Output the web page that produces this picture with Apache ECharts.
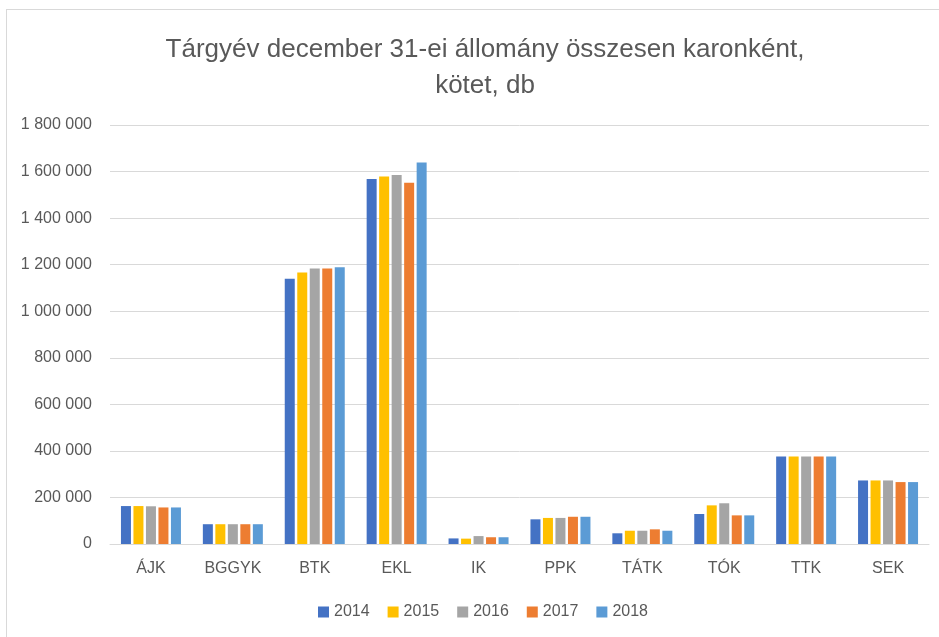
<!DOCTYPE html>
<html>
<head>
<meta charset="utf-8">
<script src="https://cdn.jsdelivr.net/npm/echarts@6/dist/echarts.min.js"></script>
<style>
    html, body { margin: 0; padding: 0; background: #fff; }
    #wrap { position: relative; width: 939px; height: 637px; }
    #chart { width: 939px; height: 637px; }
    .frame {
        position: absolute;
        left: 6px;
        top: 9px;
        right: 0;
        bottom: 0;
        border-left: 1px solid #D9D9D9;
        border-top: 1px solid #D9D9D9;
        pointer-events: none;
    }
</style>
</head>
<body>
<div id="wrap">
    <div id="chart"></div>
    <div class="frame"></div>
</div>
<script>
    // karok
    const categories = ['ÁJK', 'BGGYK', 'BTK', 'EKL', 'IK', 'PPK', 'TÁTK', 'TÓK', 'TTK', 'SEK']
    const years = ['2014', '2015', '2016', '2017', '2018']
    // állomány, kötet (leolvasott becslés)
    const v2014 = [163000, 85000, 1140000, 1568000, 24000, 106000, 46000, 129000, 376000, 273000]
    const v2015 = [163000, 85000, 1166000, 1579000, 23000, 112000, 57000, 166000, 376000, 273000]
    const v2016 = [162000, 85000, 1183000, 1585000, 34000, 112000, 57000, 175000, 376000, 273000]
    const v2017 = [157000, 85000, 1183000, 1552000, 29000, 117000, 63000, 123000, 376000, 266000]
    const v2018 = [157000, 85000, 1189000, 1639000, 29000, 117000, 57000, 123000, 376000, 266000]
    const values = [v2014, v2015, v2016, v2017, v2018]
    const colors = ['#4472C4', '#FFC000', '#A5A5A5', '#ED7D31', '#5B9BD5']

    const fontFamily = '"Liberation Sans", "DejaVu Sans", sans-serif'

    let chart = echarts.init(document.getElementById('chart'))
    chart.setOption({
        animation: false,
        textStyle: { fontFamily: fontFamily },
        title: {
            text: 'Tárgyév december 31-ei állomány összesen karonként,\nkötet, db',
            left: 480,
            textAlign: 'center',
            top: 27,
            textStyle: {
                color: '#595959',
                fontSize: 26,
                fontWeight: 'normal',
                lineHeight: 36,
                fontFamily: fontFamily
            }
        },
        legend: {
            bottom: 12,
            left: 313,
            itemWidth: 11,
            itemHeight: 11,
            itemGap: 18,
            icon: 'rect',
            textStyle: { color: '#595959', fontSize: 16 },
            data: years
        },
        grid: {
            left: 110,
            right: 10,
            top: 125,
            bottom: 93
        },
        xAxis: {
            type: 'category',
            data: categories,
            axisLine: { lineStyle: { color: '#D9D9D9' } },
            axisTick: { show: false },
            axisLabel: { color: '#595959', fontSize: 16, margin: 17 }
        },
        yAxis: {
            type: 'value',
            min: 0,
            max: 1800000,
            interval: 200000,
            axisLine: { show: false },
            axisTick: { show: false },
            splitLine: { lineStyle: { color: '#D9D9D9' } },
            axisLabel: {
                color: '#595959',
                fontSize: 16,
                margin: 18,
                formatter: function (v) {
                    return String(v).replace(/\B(?=(\d{3})+(?!\d))/g, ' ')
                }
            }
        },
        series: years.map((y, i) => ({
            name: y,
            type: 'bar',
            data: values[i],
            barWidth: 10,
            barGap: '25%',
            itemStyle: { color: colors[i] }
        }))
    })
</script>
</body>
</html>
